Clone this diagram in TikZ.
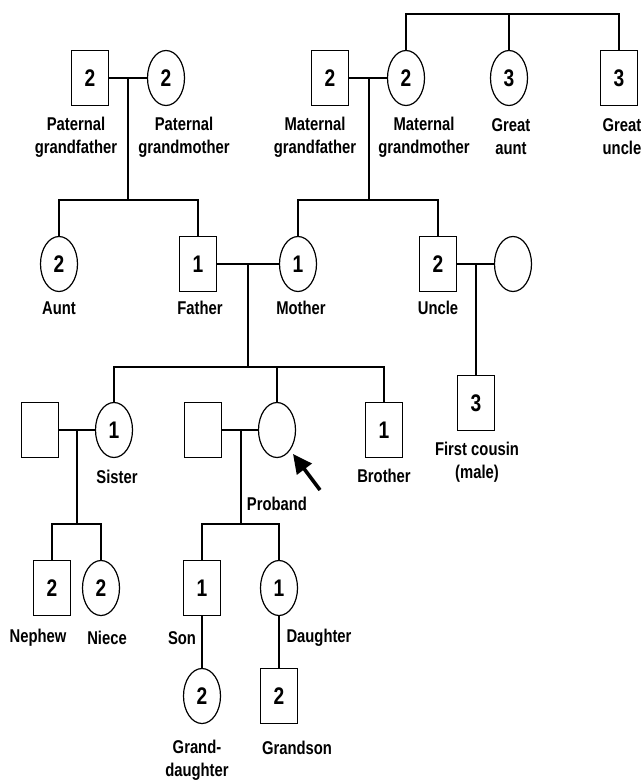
\documentclass[tikz,border=0pt]{standalone}
\usepackage{fontspec}
\setmainfont{Liberation Sans}[FakeStretch=0.8]
\usetikzlibrary{shapes.geometric,arrows.meta}
\tikzset{
  male/.style={rectangle,draw,line width=1.2pt,minimum width=37pt,minimum height=55pt,inner sep=0pt,font=\bfseries\fontsize{24}{24}\selectfont},
  female/.style={ellipse,draw,line width=1.2pt,minimum width=37pt,minimum height=55pt,inner sep=0pt,font=\bfseries\fontsize{24}{24}\selectfont},
  lbl/.style={align=center,inner sep=0pt,font=\bfseries\fontsize{18.5}{23}\selectfont},
  link/.style={line width=2pt},
  pointer/.style={line width=3.6pt,-{Triangle[length=19pt,width=18pt]}}
}
\begin{document}
\begin{tikzpicture}[x=1pt,y=-1pt]
\useasboundingbox (0,0) rectangle (642,781);
% generation I
\node[male] (pgf) at (90,78) {2};
\node[female] (pgm) at (166,78) {2};
\node[male] (mgf) at (330,78) {2};
\node[female] (mgm) at (406,78) {2};
\node[female] (ga) at (509,78) {3};
\node[male] (gu) at (619,78) {3};
% generation II
\node[female] (aunt) at (59,264) {2};
\node[male] (father) at (198,264) {1};
\node[female] (mother) at (298,264) {1};
\node[male] (uncle) at (438,264) {2};
\node[female] (uwife) at (513,264) {};
\node[male] (cousin) at (476,403) {3};
% generation III
\node[male] (sh) at (40,430) {};
\node[female] (sister) at (114,430) {1};
\node[male] (ps) at (203,430) {};
\node[female] (proband) at (277,430) {};
\node[male] (brother) at (384,430) {1};
% generation IV
\node[male] (nephew) at (52,588) {2};
\node[female] (niece) at (101,588) {2};
\node[male] (son) at (202,588) {1};
\node[female] (daughter) at (279,588) {1};
% generation V
\node[female] (gd) at (202,696) {2};
\node[male] (gs) at (279,696) {2};

% labels
\node[lbl] (lpgf) at (76,137) {Paternal\\grandfather};
\node[lbl] (lpgm) at (184,137) {Paternal\\grandmother};
\node[lbl] (lmgf) at (315,137) {Maternal\\grandfather};
\node[lbl] (lmgm) at (424,137) {Maternal\\grandmother};
\node[lbl] (lga) at (511,137) {Great\\aunt};
\node[lbl] (lgu) at (622,137) {Great\\uncle};
\node[lbl] (launt) at (59,308) {Aunt};
\node[lbl] (lfather) at (200,308) {Father};
\node[lbl] (lmother) at (301,308) {Mother};
\node[lbl] (luncle) at (438,308) {Uncle};
\node[lbl] (lcousin) at (477,462) {First cousin\\(male)};
\node[lbl] (lsister) at (117,477) {Sister};
\node[lbl] (lproband) at (277,504) {Proband};
\node[lbl] (lbrother) at (384,476) {Brother};
\node[lbl] (lnephew) at (38,638) {Nephew};
\node[lbl] (lniece) at (107,638) {Niece};
\node[lbl] (lson) at (182,638) {Son};
\node[lbl] (ldaughter) at (319,638) {Daughter};
\node[lbl] (lgd) at (197,760) {Grand-\\daughter};
\node[lbl] (lgs) at (297,748) {Grandson};

% coordinates
\coordinate (top) at (509,14);
\coordinate (pm) at (128,78);
\coordinate (pc) at (128,200);
\coordinate (mm) at (369,78);
\coordinate (mc) at (369,200);
\coordinate (fm) at (248,264);
\coordinate (fc) at (248,367);
\coordinate (um) at (476,264);
\coordinate (sm) at (77,430);
\coordinate (sc) at (77,524);
\coordinate (prm) at (241,430);
\coordinate (prc) at (241,524);
\coordinate (atail) at (320,490);
\coordinate (ahead) at (293,454);

% connectors
\draw[link] (mgm.north) |- (top) -| (gu.north);
\draw[link] (top) -- (ga.north);
\draw[link] (pgf.east) -- (pgm.west);
\draw[link] (pm) -- (pc);
\draw[link] (aunt.north) |- (pc) -| (father.north);
\draw[link] (mgf.east) -- (mgm.west);
\draw[link] (mm) -- (mc);
\draw[link] (mother.north) |- (mc) -| (uncle.north);
\draw[link] (father.east) -- (mother.west);
\draw[link] (fm) -- (fc);
\draw[link] (sister.north) |- (fc) -| (brother.north);
\draw[link] (fc) -| (proband.north);
\draw[link] (uncle.east) -- (uwife.west);
\draw[link] (um) -- (cousin.north);
\draw[link] (sh.east) -- (sister.west);
\draw[link] (sm) -- (sc);
\draw[link] (nephew.north) |- (sc) -| (niece.north);
\draw[link] (ps.east) -- (proband.west);
\draw[link] (prm) -- (prc);
\draw[link] (son.north) |- (prc) -| (daughter.north);
\draw[link] (son.south) -- (gd.north);
\draw[link] (daughter.south) -- (gs.north);
\draw[pointer] (atail) -- (ahead);
\end{tikzpicture}
\end{document}
